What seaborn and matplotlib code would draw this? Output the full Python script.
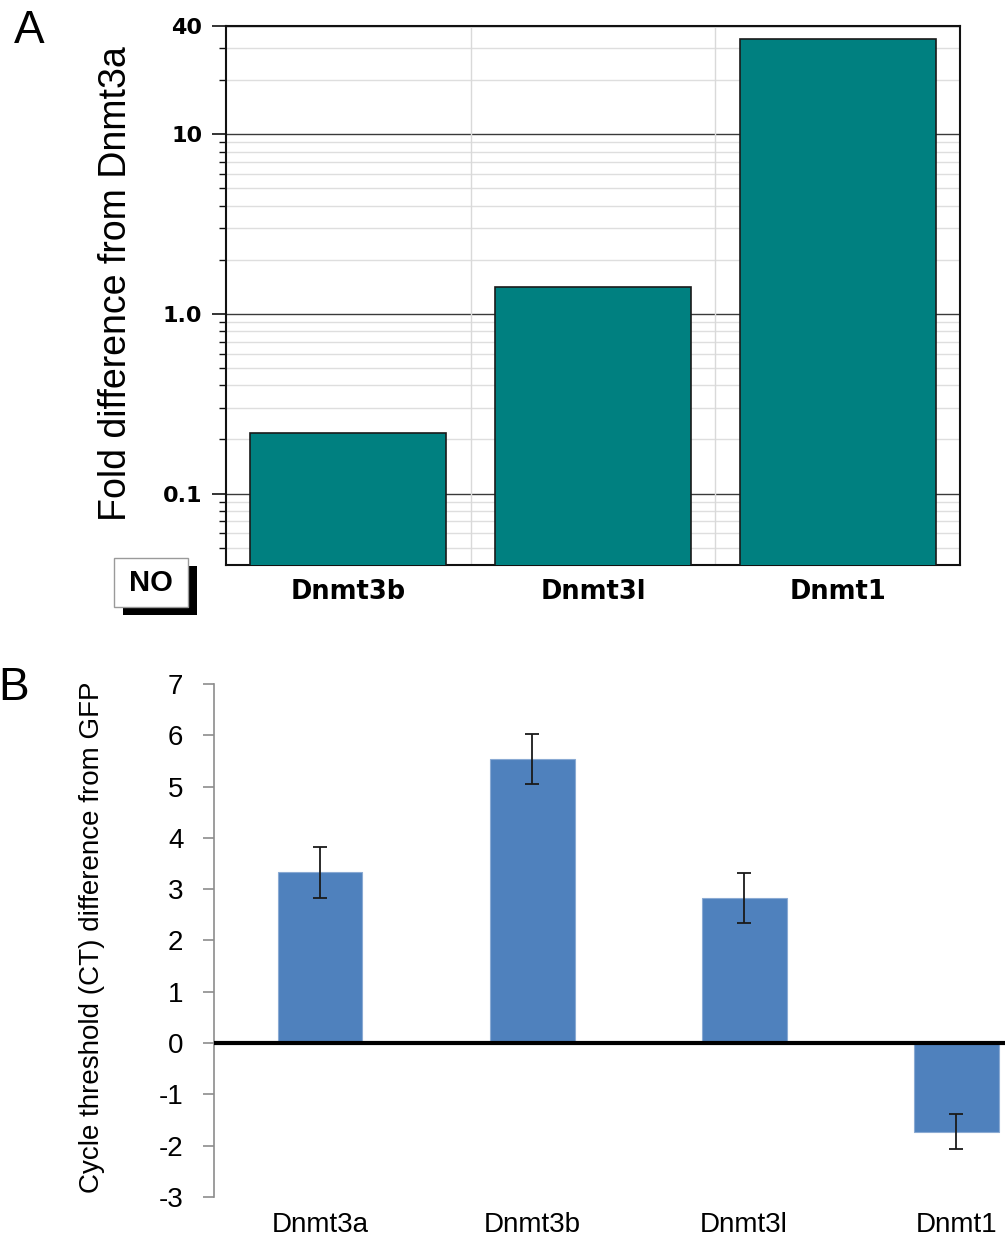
import matplotlib
matplotlib.use("Agg")
import matplotlib.pyplot as plt
import seaborn as sns
from matplotlib.patches import Rectangle
from matplotlib.ticker import NullFormatter

# Panel A: fold difference relative to Dnmt3a (log scale)
genes_a = ["Dnmt3b", "Dnmt3l", "Dnmt1"]
fold_a = [0.218, 1.41, 33.7]
ticks_a = [0.1, 1.0, 10, 40]
tick_labels_a = ["0.1", "1.0", "10", "40"]

# Panel B: CT difference from GFP with error bars
genes_b = ["Dnmt3a", "Dnmt3b", "Dnmt3l", "Dnmt1"]
ct_b = [3.33, 5.54, 2.83, -1.73]
err_b = [0.50, 0.49, 0.48, 0.34]
ticks_b = list(range(-3, 8))

W, H = 1005, 1240


def fx(px):
    return px / W


def fy(py):
    return 1 - py / H


sns.set_theme(style="white")
plt.rcParams["font.family"] = ["Liberation Sans", "DejaVu Sans"]
plt.rcParams["axes.unicode_minus"] = False
plt.rcParams["text.color"] = "black"
plt.rcParams["xtick.color"] = "black"
plt.rcParams["ytick.color"] = "black"

fig = plt.figure(figsize=(W / 100, H / 100), dpi=100)
ax1 = fig.add_axes([fx(226), fy(565), 734 / W, 539 / H])
ax2 = fig.add_axes([fx(214), fy(1197), 791 / W, 513 / H])

# ---- Panel A ----
sns.barplot(x=genes_a, y=fold_a, color="#008080", saturation=1, width=0.8,
            edgecolor="#1a1a1a", linewidth=1.2, ax=ax1, zorder=3)
ax1.set_yscale("log")
ax1.set_ylim(0.04, 40)
ax1.set_xlim(-0.5, 2.5)
ax1.set_yticks(ticks_a, labels=tick_labels_a)
minor = [k * 10.0 ** e for e in (-2, -1, 0, 1) for k in range(2, 10)
         if 0.04 < k * 10.0 ** e < 40]
ax1.set_yticks(minor, minor=True)
ax1.yaxis.set_minor_formatter(NullFormatter())
ax1.set_axisbelow(True)
ax1.grid(axis="y", which="major", color="#3a3a3a", linewidth=1.0)
ax1.grid(axis="y", which="minor", color="#dedede", linewidth=1.0)
for xv in (0.5, 1.5):
    ax1.axvline(xv, color="#d9d9d9", linewidth=1.0, zorder=1)
for s in ax1.spines.values():
    s.set_visible(True)
    s.set_color("#111111")
    s.set_linewidth(1.5)
ax1.tick_params(axis="y", which="major", direction="out", length=10, width=1.2,
                color="#111111", pad=7, left=True, labelcolor="black")
ax1.tick_params(axis="y", which="minor", direction="out", length=5, width=1.0,
                color="#111111", left=True)
ax1.tick_params(axis="x", length=0, pad=10, labelcolor="black")
for lab in ax1.get_yticklabels():
    lab.set_fontfamily("DejaVu Sans")
    lab.set_fontweight("bold")
    lab.set_fontsize(16)
for lab in ax1.get_xticklabels():
    lab.set_fontfamily("DejaVu Sans")
    lab.set_fontweight("bold")
    lab.set_fontsize(18.5)
ax1.set_xlabel("")
ax1.set_ylabel("")
fig.text(fx(116), fy(284), "Fold difference from Dnmt3a", rotation=90,
         ha="center", va="center", fontsize=27, color="black")

# ---- Panel B ----
sns.barplot(x=genes_b, y=ct_b, color="#4F81BD", saturation=1, width=0.4,
            edgecolor="#8aaad3", linewidth=0.8, ax=ax2, zorder=2)
ax2.errorbar(x=list(range(len(genes_b))), y=ct_b, yerr=err_b, fmt="none",
             ecolor="#1a1a1a", elinewidth=1.3, capsize=4.7, capthick=1.3,
             zorder=4)
ax2.axhline(0, color="black", linewidth=3, zorder=5)
ax2.set_ylim(-3, 7)
ax2.set_xlim(-0.5, 3.23)
ax2.set_yticks(ticks_b)
for side in ("top", "right", "bottom"):
    ax2.spines[side].set_visible(False)
ax2.spines["left"].set_color("#8c8c8c")
ax2.spines["left"].set_linewidth(1.2)
ax2.tick_params(axis="y", direction="out", length=8, width=1.2,
                color="#8c8c8c", pad=14, labelsize=20, left=True,
                labelcolor="black")
ax2.tick_params(axis="x", length=0, pad=11, labelsize=20, labelcolor="black")
ax2.set_xlabel("")
ax2.set_ylabel("")
fig.text(fx(92), fy(937), "Cycle threshold (CT) difference from GFP",
         rotation=90, ha="center", va="center", fontsize=20, color="black")

# ---- Panel letters and the boxed "NO" tag ----
fig.text(fx(14), fy(43), "A", fontsize=33, ha="left", va="baseline")
fig.text(fx(-2), fy(700), "B", fontsize=33, ha="left", va="baseline")

fig.add_artist(Rectangle((fx(123), fy(615)), 74 / W, 49 / H,
                         transform=fig.transFigure, facecolor="black",
                         edgecolor="none"))
fig.add_artist(Rectangle((fx(114), fy(607)), 74 / W, 49 / H,
                         transform=fig.transFigure, facecolor="white",
                         edgecolor="#9a9a9a", linewidth=1.0))
fig.text(fx(151), fy(583), "NO", fontsize=21, fontweight="bold",
         ha="center", va="center", color="black")

fig.savefig("out.png", dpi=100)
